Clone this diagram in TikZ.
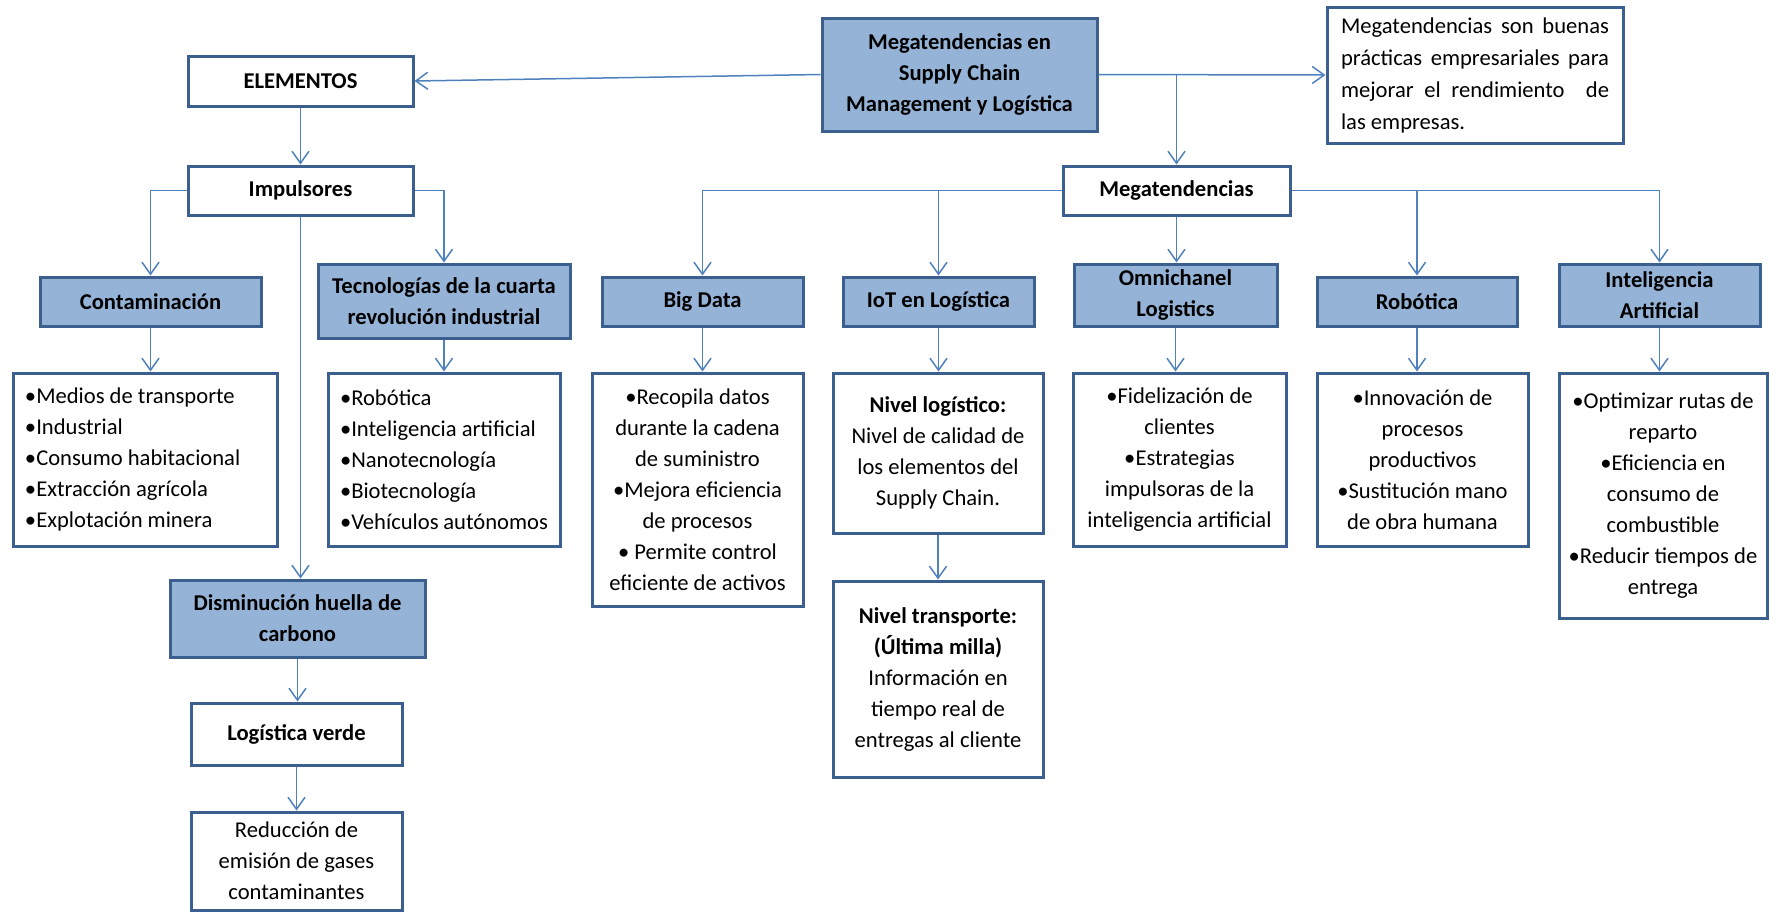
\documentclass[tikz,border=0pt]{standalone}
\usepackage{fontspec}
\setmainfont{Carlito}
\usetikzlibrary{arrows.meta}

\definecolor{boxfill}{HTML}{95B3D7}
\definecolor{boxline}{HTML}{3B5F8E}
\definecolor{linkblue}{HTML}{4F81BD}

\tikzset{
  base/.style={draw=boxline, line width=1.5pt, rectangle, inner sep=2pt,
    font=\fontsize{11.3}{15.5}\selectfont, text=black},
  plainbox/.style={base, fill=white, align=center},
  bluebox/.style={base, fill=boxfill, align=center, font=\fontsize{11.3}{15.5}\selectfont\bfseries},
  titlebox/.style={base, fill=white, align=center, font=\fontsize{11.3}{15.5}\selectfont\bfseries},
  leftlist/.style={base, fill=white, align=flush left, inner xsep=6pt},
  conn/.style={draw=linkblue, line width=0.75pt,
    -{Straight Barb[length=6pt, width=8.5pt]}},
}

\begin{document}
\begin{tikzpicture}[x=0.5pt, y=-0.5pt]
\useasboundingbox (0,0) rectangle (1771,912);

% ---- top level ----
\node[bluebox, minimum width=137.5pt, minimum height=56.5pt] (main) at (959.5,74.5)
  {Megatendencias en\\Supply Chain\\Management y Logística};
\node[base, fill=white, text width=134pt, inner xsep=7pt, minimum height=68pt,
  font=\fontsize{11.3}{16}\selectfont, align=flush left] (note) at (1475,75)
  {\makebox[134pt][s]{Megatendencias son buenas}\\
   \makebox[134pt][s]{prácticas empresariales para}\\
   \makebox[134pt][s]{mejorar el rendimiento\ \ de}\\
   las empresas.};

% ---- left branch ----
\node[titlebox, minimum width=112.5pt, minimum height=25pt] (elem) at (300.5,81) {ELEMENTOS};
\node[titlebox, minimum width=112.5pt, minimum height=24.5pt] (imp) at (300.5,190.5) {Impulsores};
\node[bluebox, minimum width=110.5pt, minimum height=24.5pt] (cont) at (150.5,301.5) {Contaminación};
\node[bluebox, minimum width=126pt, minimum height=37pt] (tec) at (444,301)
  {Tecnologías de la cuarta\\revolución industrial};
\node[leftlist, text width=120pt, minimum height=86.5pt] (contl) at (145,459.5)
  {•Medios de transporte\\•Industrial\\•Consumo habitacional\\•Extracción agrícola\\•Explotación minera};
\node[leftlist, text width=104pt, minimum height=86.5pt] (tecl) at (444,459.5)
  {•Robótica\\•Inteligencia artificial\\•Nanotecnología\\•Biotecnología\\•Vehículos~autónomos};
\node[bluebox, minimum width=127.5pt, minimum height=38.5pt] (dis) at (297.5,618.5)
  {Disminución huella de\\carbono};
\node[titlebox, minimum width=105.5pt, minimum height=31pt] (verde) at (296.5,734) {Logística verde};
\node[plainbox, minimum width=105.5pt, minimum height=49pt] (red) at (296.5,861)
  {Reducción de\\emisión de gases\\contaminantes};

% ---- right branch ----
\node[titlebox, minimum width=113.5pt, minimum height=24.5pt] (mega) at (1176.5,190.5) {Megatendencias};
\node[bluebox, minimum width=100.5pt, minimum height=24.5pt] (bd) at (702.5,301.5) {Big Data};
\node[bluebox, minimum width=95.5pt, minimum height=24.5pt] (iot) at (938.5,301.5) {IoT en Logística};
\node[bluebox, minimum width=101.5pt, minimum height=31pt] (omni) at (1175.5,295) {Omnichanel\\Logistics};
\node[bluebox, minimum width=100pt, minimum height=24.5pt] (rob) at (1417,301.5) {Robótica};
\node[bluebox, minimum width=100.5pt, minimum height=31pt] (ia) at (1659.5,295) {Inteligencia\\Artificial};

\node[plainbox, minimum width=105.5pt, minimum height=116.5pt] (bdl) at (697.5,489.5)
  {•Recopila datos\\durante la cadena\\de suministro\\•Mejora eficiencia\\de procesos\\• Permite control\\eficiente de activos};
\node[plainbox, minimum width=105pt, minimum height=80pt] (iot1) at (938,453)
  {\textbf{Nivel logístico:}\\Nivel de calidad de\\los elementos del\\Supply Chain.};
\node[plainbox, minimum width=105pt, minimum height=98pt] (iot2) at (938,679)
  {\textbf{Nivel transporte:}\\\textbf{(Última milla)}\\Información en\\tiempo real de\\entregas al cliente};
\node[plainbox, minimum width=106.5pt, minimum height=86.5pt] (omnil) at (1179.5,459.5)
  {•Fidelización de\\clientes\\•Estrategias\\impulsoras de la\\inteligencia artificial};
\node[plainbox, minimum width=105.5pt, minimum height=86.5pt] (robl) at (1422.5,459.5)
  {•Innovación de\\procesos\\productivos\\•Sustitución mano\\de obra humana};
\node[plainbox, minimum width=104pt, minimum height=122.5pt] (ial) at (1663,495.5)
  {•Optimizar rutas de\\reparto\\•Eficiencia en\\consumo de\\combustible\\•Reducir tiempos de\\entrega};

% ---- connectors ----
\draw[conn] (main.west) -- (elem.east);
\draw[conn] (main.east) -- (note.west);
\draw[conn] (main.east -| mega.north) -- (mega.north);

\draw[conn] (elem.south) -- (imp.north);
\draw[conn] (imp.west) -| (cont.north);
\draw[conn] (imp.east) -| (tec.north);
\draw[conn] (imp.south) -- (imp.south |- dis.north);
\draw[conn] (cont.south) -- (cont.south |- contl.north);
\draw[conn] (tec.south) -- (tecl.north);
\draw[conn] (dis.south) -- (dis.south |- verde.north);
\draw[conn] (verde.south) -- (red.north);

\draw[conn] (mega.west) -| (bd.north);
\draw[conn] (mega.west) -| (iot.north);
\draw[conn] (mega.south) -- (mega.south |- omni.north);
\draw[conn] (mega.east) -| (rob.north);
\draw[conn] (mega.east) -| (ia.north);

\draw[conn] (bd.south) -- (bd.south |- bdl.north);
\draw[conn] (iot.south) -- (iot.south |- iot1.north);
\draw[conn] (iot1.south) -- (iot2.north);
\draw[conn] (omni.south) -- (omni.south |- omnil.north);
\draw[conn] (rob.south) -- (rob.south |- robl.north);
\draw[conn] (ia.south) -- (ia.south |- ial.north);
\end{tikzpicture}
\end{document}
